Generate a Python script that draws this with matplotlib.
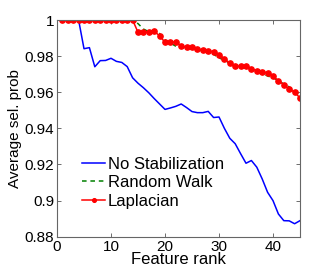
import matplotlib
matplotlib.use("Agg")
import matplotlib.pyplot as plt

plt.rcParams['font.family'] = ['Liberation Sans', 'DejaVu Sans']

rank = list(range(1, 46))
no_stab = [1.0, 1.0, 1.0, 1.0, 0.9841, 0.9847, 0.9741, 0.9775, 0.9776, 0.9788,
           0.9771, 0.9765, 0.9742, 0.9680, 0.9650, 0.9625, 0.9597, 0.9565, 0.9535, 0.9505,
           0.9513, 0.9522, 0.9535, 0.9515, 0.9493, 0.9487, 0.9487, 0.9494, 0.9460, 0.9463,
           0.9400, 0.9345, 0.9315, 0.9260, 0.9207, 0.9222, 0.9185, 0.9120, 0.9046, 0.9000,
           0.8926, 0.8889, 0.8888, 0.8872, 0.8889]
random_walk = [1.0] * 14 + [0.9980, 0.9950, 0.9935, 0.9930, 0.9925, 0.9890, 0.9872, 0.9855,
                            0.9850, 0.9843, 0.9840, 0.9835, 0.9830, 0.9827, 0.9810, 0.9790,
                            0.9778, 0.9760, 0.9735, 0.9733, 0.9735, 0.9725, 0.9715, 0.9705,
                            0.9690, 0.9680, 0.9665, 0.9645, 0.9630, 0.9605, 0.9580]
laplacian = [1.0] * 14 + [0.9932, 0.9932, 0.9935, 0.9937, 0.9913, 0.9876, 0.9878, 0.9878,
                          0.9857, 0.9848, 0.9848, 0.9841, 0.9833, 0.9830, 0.9824, 0.9808,
                          0.9786, 0.9760, 0.9744, 0.9744, 0.9744, 0.9731, 0.9719, 0.9711,
                          0.9709, 0.9688, 0.9664, 0.9642, 0.9617, 0.9601, 0.9568]

xticks = [0, 10, 20, 30, 40]
yticks = [0.88, 0.9, 0.92, 0.94, 0.96, 0.98, 1.0]
ytick_labels = ['0.88', '0.9', '0.92', '0.94', '0.96', '0.98', '1']

fig = plt.figure(figsize=(3.32, 2.74), dpi=100)
ax = fig.add_axes([0.1717, 0.136, 0.7319, 0.791])

ax.plot(rank, no_stab, color='#0000ff', lw=1.1, label='No Stabilization')
ax.plot(rank, random_walk, color='#008000', lw=1.1, ls=(0, (3, 2.5)), label='Random Walk')
ax.plot(rank, laplacian, color='#ff0000', lw=1.1, marker='o', ms=3.8, label='Laplacian')

ax.set_xlim(0, 45)
ax.set_ylim(0.88, 1.0)
ax.set_xticks(xticks)
ax.set_yticks(yticks)
ax.set_yticklabels(ytick_labels)
ax.tick_params(direction='in', length=3, width=0.6, color='#555555', labelsize=11,
               top=True, right=True, pad=2)
for s in ax.spines.values():
    s.set_color('#666666')
    s.set_linewidth(0.8)

ax.set_xlabel('Feature rank', fontsize=12, labelpad=-1)
ax.set_ylabel('Average sel. prob', fontsize=11, labelpad=2)

leg = ax.legend(loc='lower left', bbox_to_anchor=(0.103, 0.13), frameon=False, fontsize=12,
                handlelength=1.4, handletextpad=0.15, labelspacing=0.2, borderaxespad=0,
                borderpad=0, markerscale=0.7)

fig.savefig('out.png', dpi=100)
